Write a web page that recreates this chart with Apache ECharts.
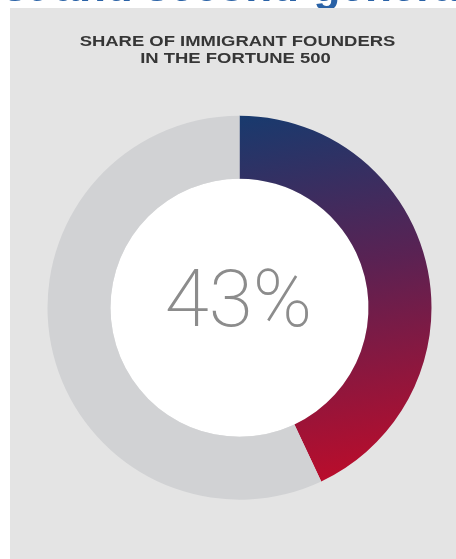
<!DOCTYPE html>
<html>
<head>
<meta charset="utf-8">
<script src="https://cdn.jsdelivr.net/npm/echarts@6/dist/echarts.min.js"></script>
<style>
html,body{margin:0;padding:0;background:#ffffff;}
#chart{width:456px;height:559px;}
</style>
</head>
<body>
<div id="chart"></div>
<script>
const categories = ['Immigrant founders', 'Other'];
const values = [43, 57];
const centerLabel = '43%';
const titleLines = ['SHARE OF IMMIGRANT FOUNDERS', 'IN THE FORTUNE 500'];
const headerText = 'rst and second-generation';

const chart = echarts.init(document.getElementById('chart'), null, {renderer: 'canvas'});
const option = {
  animation: false,
  backgroundColor: '#ffffff',
  graphic: [
    {type: 'text', x: -14, y: 11.2, z: 0, silent: true,
     style: {text: headerText, font: 'bold 44px "Liberation Sans", Arial, sans-serif', fill: '#2a62a6', align: 'left', verticalAlign: 'bottom'}},
    {type: 'rect', shape: {x: 10, y: 8, width: 446, height: 551}, z: 0, silent: true,
     style: {fill: '#e4e4e4'}},
    {type: 'text', x: 237.5, y: 42, scaleX: 1.23, z: 5, silent: true,
     style: {text: titleLines[0], font: 'bold 15px "Liberation Sans", Arial, sans-serif', fill: '#363636', align: 'center', verticalAlign: 'middle'}},
    {type: 'text', x: 235.5, y: 58.5, scaleX: 1.23, z: 5, silent: true,
     style: {text: titleLines[1], font: 'bold 15px "Liberation Sans", Arial, sans-serif', fill: '#363636', align: 'center', verticalAlign: 'middle'}},
    {type: 'circle', shape: {cx: 239.5, cy: 307.7, r: 129}, z: 1, silent: true,
     style: {fill: '#ffffff'}},
    {type: 'text', x: 238.5, y: 306, z: 5, silent: true,
     style: {text: centerLabel, font: '200 80px Roboto, "Liberation Sans", sans-serif', fill: '#8c8c8c', align: 'center', verticalAlign: 'middle'}}
  ],
  series: [{
    type: 'pie',
    center: [239.5, 307.7],
    radius: [129, 192],
    startAngle: 90,
    clockwise: true,
    silent: true,
    label: {show: false},
    labelLine: {show: false},
    emphasis: {disabled: true},
    z: 2,
    data: [
      {name: categories[0], value: values[0], itemStyle: {color: new echarts.graphic.LinearGradient(0, 0, 0.35, 1, [
        {offset: 0, color: '#183a6e'},
        {offset: 0.45, color: '#5a2253'},
        {offset: 1, color: '#b80d2c'}
      ])}},
      {name: categories[1], value: values[1], itemStyle: {color: '#d1d2d4'}}
    ]
  }]
};
chart.setOption(option);
</script>
</body>
</html>
